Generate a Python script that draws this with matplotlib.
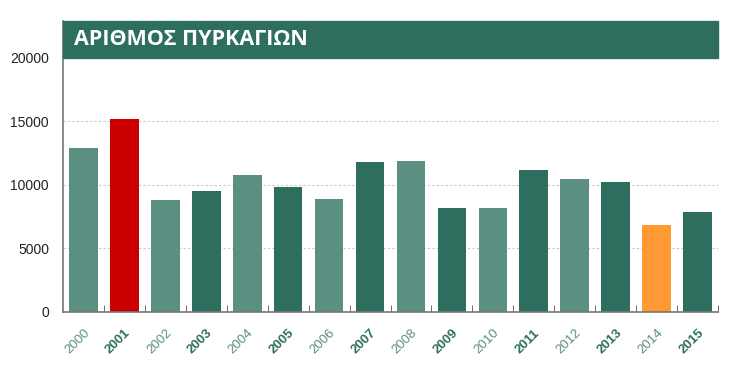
import matplotlib.pyplot as plt
from matplotlib.patches import Rectangle
import numpy as np

years = ['2000', '2001', '2002', '2003', '2004', '2005', '2006', '2007',
         '2008', '2009', '2010', '2011', '2012', '2013', '2014', '2015']
fires = [12900, 15200, 8800, 9500, 10800, 9800, 8900, 11800,
         11900, 8150, 8200, 11150, 10450, 10200, 6850, 7850]
title = 'ΑΡΙΘΜΟΣ ΠΥΡΚΑΓΙΩΝ'

light = '#5b8f81'
dark = '#2e6e5e'
bar_colors = [light, '#cc0000', light, dark, light, dark, light, dark,
              light, dark, light, dark, light, dark, '#ff9933', dark]

plt.rcParams['font.family'] = ['Liberation Sans', 'DejaVu Sans']

fig = plt.figure(figsize=(7.5, 3.91), dpi=100)
ax = fig.add_axes([63 / 750, 1 - 311.7 / 391, 655 / 750, (311.7 - 21) / 391])

x = np.arange(len(years))
ax.bar(x, fires, width=0.7, color=bar_colors, zorder=2)

top = 20000 + (58 - 21) / 63.5 * 5000
ax.set_ylim(0, top)
ax.set_xlim(-0.5, len(years) - 0.5)

# title band
ax.add_patch(Rectangle((-0.5, 20000), len(years), top - 20000, color=dark,
                       zorder=3, clip_on=False))
ax.text(-0.22, (20000 + top) / 2, title, color='white', fontsize=15.5,
        fontweight='bold', va='center', ha='left', zorder=4,
        family=['Open Sans', 'DejaVu Sans'])

ax.set_yticks([0, 5000, 10000, 15000, 20000])
ax.tick_params(axis='y', length=0, labelsize=10, pad=10, labelcolor='#222222')
for y in [5000, 10000, 15000]:
    ax.axhline(y, color='#c8c8c8', lw=0.8, ls=(0, (2, 2)), zorder=1)

ax.set_xticks(x)
ax.set_xticklabels(years, rotation=45, ha='right', rotation_mode='anchor', fontsize=9.5)
ax.tick_params(axis='x', length=0, pad=11)
for i, lab in enumerate(ax.get_xticklabels()):
    if i % 2 == 0:
        lab.set_color(light)
    else:
        lab.set_color(dark)
        lab.set_fontweight('bold')

# small separator ticks between categories
ax.set_xticks(np.arange(0.5, len(years), 1.0), minor=True)
ax.tick_params(axis='x', which='minor', direction='in', length=5, color='#555555')

for s in ['top', 'right']:
    ax.spines[s].set_visible(False)
ax.spines['left'].set_color('#777777')
ax.spines['bottom'].set_color('#777777')
ax.spines['left'].set_linewidth(1.2)
ax.spines['bottom'].set_linewidth(1.2)

fig.savefig('out.png', dpi=100)
